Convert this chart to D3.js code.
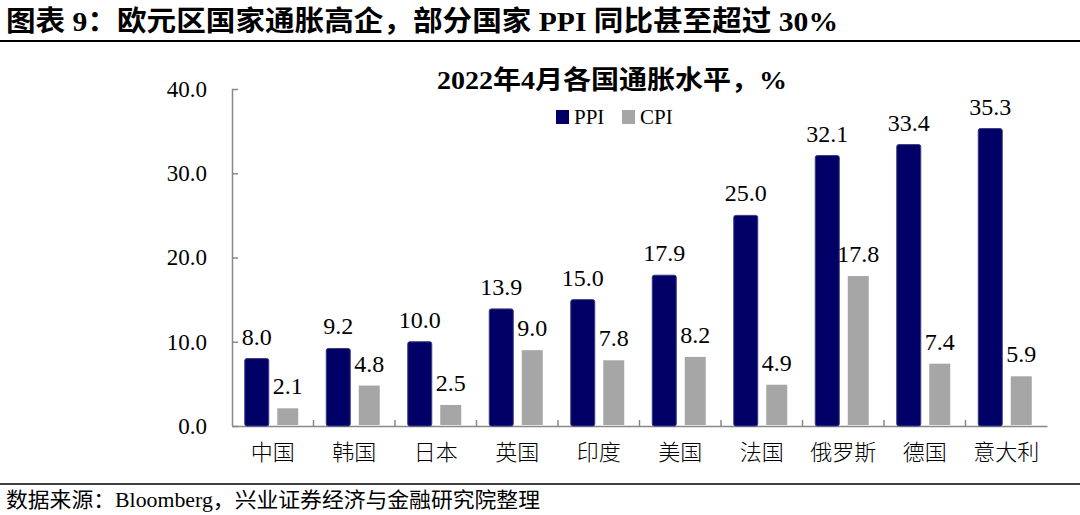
<!DOCTYPE html>
<html>
<head>
<meta charset="utf-8">
<script src="https://cdn.jsdelivr.net/npm/d3@7"></script>
<style>
  body { margin: 0; background: #fff; }
  text { font-family: "Liberation Serif", "Times New Roman", "Noto Sans CJK SC", serif; }
</style>
</head>
<body>
<script>
var categories = ["中国", "韩国", "日本", "英国", "印度", "美国", "法国", "俄罗斯", "德国", "意大利"];
var ppi = [8.0, 9.2, 10.0, 13.9, 15.0, 17.9, 25.0, 32.1, 33.4, 35.3];
var cpi = [2.1, 4.8, 2.5, 9.0, 7.8, 8.2, 4.9, 17.8, 7.4, 5.9];
var yTicks = [0, 10, 20, 30, 40];

var W = 1080, H = 515;
var svg = d3.select("body").append("svg")
    .attr("width", W).attr("height", H);

// header
svg.append("text")
    .attr("x", 6).attr("y", 31)
    .attr("font-size", 28).attr("font-weight", "bold")
    .attr("textLength", 832).attr("lengthAdjust", "spacingAndGlyphs")
    .text("图表 9：欧元区国家通胀高企，部分国家 PPI 同比甚至超过 30%");
svg.append("line")
    .attr("x1", 0).attr("x2", W).attr("y1", 41).attr("y2", 41)
    .attr("stroke", "#000").attr("stroke-width", 2);
svg.append("line")
    .attr("x1", 0).attr("x2", W).attr("y1", 484).attr("y2", 484)
    .attr("stroke", "#000").attr("stroke-width", 1.5);
svg.append("text")
    .attr("x", 6).attr("y", 507)
    .attr("font-size", 21)
    .attr("textLength", 534).attr("lengthAdjust", "spacingAndGlyphs")
    .text("数据来源：Bloomberg，兴业证券经济与金融研究院整理");

var margin = { left: 232, top: 89, right: 1047, bottom: 426 };

var x = d3.scaleBand().domain(categories)
    .range([margin.left, margin.right]);
var y = d3.scaleLinear().domain([0, 40]).range([margin.bottom, margin.top]);

// chart title
svg.append("text")
    .attr("x", 612).attr("y", 89)
    .attr("text-anchor", "middle")
    .attr("font-size", 26).attr("font-weight", "bold")
    .attr("textLength", 350).attr("lengthAdjust", "spacingAndGlyphs")
    .text("2022年4月各国通胀水平，%");

// legend
var legend = [["PPI", "#000066"], ["CPI", "#a6a6a6"]];
legend.forEach(function (d, i) {
    var lx = 556 + i * 66;
    svg.append("rect")
        .attr("x", lx).attr("y", 110).attr("width", 13).attr("height", 14)
        .attr("fill", d[1]);
    svg.append("text")
        .attr("x", lx + 18).attr("y", 124)
        .attr("font-size", 21)
        .text(d[0]);
});

// y axis
var yAxis = svg.append("g")
    .attr("transform", "translate(" + margin.left + ",0)")
    .call(d3.axisLeft(y).tickValues(yTicks).tickSize(-6).tickPadding(25)
        .tickFormat(d3.format(".1f")));
yAxis.select(".domain").attr("stroke", "#888").attr("stroke-width", 1.5)
    .attr("d", "M0.5," + margin.top + "V" + margin.bottom);
yAxis.selectAll(".tick line").attr("stroke", "#888").attr("stroke-width", 1.5);
yAxis.selectAll(".tick text")
    .attr("font-size", 23).attr("fill", "#000")
    .attr("font-family", "Liberation Serif, serif");

// x axis
var xAxis = svg.append("g")
    .attr("transform", "translate(0," + margin.bottom + ")")
    .call(d3.axisBottom(x).tickSize(0).tickPadding(18));
xAxis.select(".domain").attr("stroke", "#888").attr("stroke-width", 1.5);
xAxis.selectAll(".tick text")
    .attr("font-size", 22).attr("fill", "#000")
    .attr("font-family", "Noto Sans CJK SC, sans-serif")
    .attr("font-weight", 300);
// small separators between categories
svg.append("g").selectAll("line")
    .data(categories.slice(1))
    .enter().append("line")
    .attr("x1", function (d) { return x(d); })
    .attr("x2", function (d) { return x(d); })
    .attr("y1", margin.bottom).attr("y2", margin.bottom - 6)
    .attr("stroke", "#888").attr("stroke-width", 1.5);

var bw = x.bandwidth();
var ppiW = 24, cpiW = 21;

// PPI bars
svg.append("g").selectAll("rect")
    .data(ppi).enter().append("rect")
    .attr("x", function (d, i) { return x(categories[i]) + bw / 2 - 16 - ppiW / 2; })
    .attr("y", function (d) { return y(d); })
    .attr("width", ppiW)
    .attr("height", function (d) { return y(0) - y(d); })
    .attr("rx", 2)
    .attr("fill", "#000066")
    .attr("stroke", "#3b3b80").attr("stroke-width", 1);

// CPI bars
svg.append("g").selectAll("rect")
    .data(cpi).enter().append("rect")
    .attr("x", function (d, i) { return x(categories[i]) + bw / 2 + 15 - cpiW / 2; })
    .attr("y", function (d) { return y(d); })
    .attr("width", cpiW)
    .attr("height", function (d) { return y(0) - y(d) - 1; })
    .attr("fill", "#a6a6a6");

// labels
svg.append("g").selectAll("text")
    .data(ppi).enter().append("text")
    .attr("x", function (d, i) { return x(categories[i]) + bw / 2 - 16; })
    .attr("y", function (d) { return y(d) - 14; })
    .attr("text-anchor", "middle")
    .attr("font-size", 24)
    .text(function (d) { return d.toFixed(1); });
svg.append("g").selectAll("text")
    .data(cpi).enter().append("text")
    .attr("x", function (d, i) { return x(categories[i]) + bw / 2 + 15; })
    .attr("y", function (d) { return y(d) - 14; })
    .attr("text-anchor", "middle")
    .attr("font-size", 24)
    .text(function (d) { return d.toFixed(1); });
</script>
</body>
</html>
